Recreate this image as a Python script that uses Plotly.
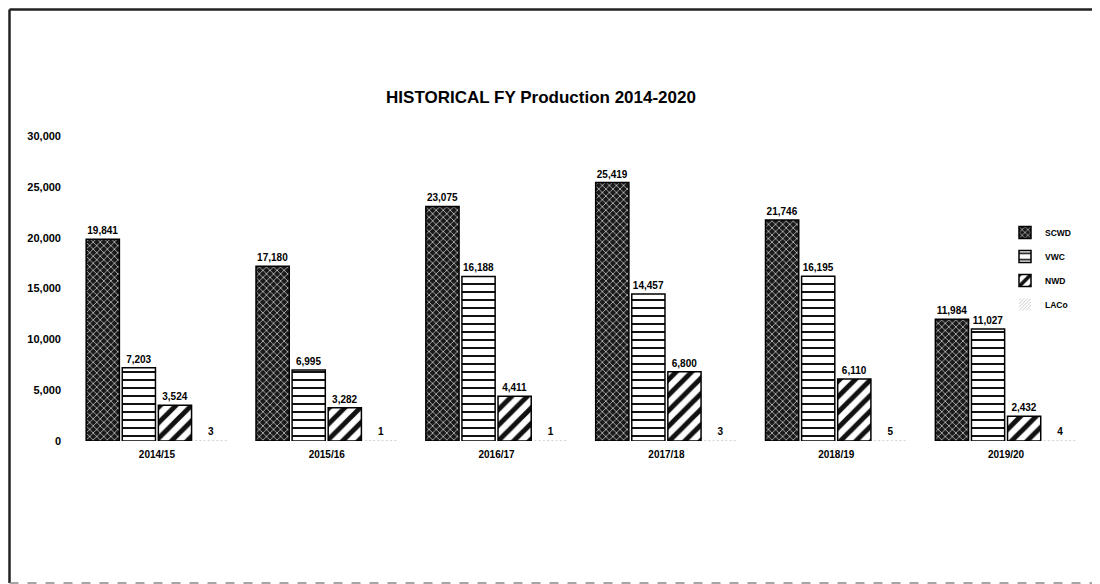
import plotly.graph_objects as go

years = ["2014/15", "2015/16", "2016/17", "2017/18", "2018/19", "2019/20"]
scwd = [19841, 17180, 23075, 25419, 21746, 11984]
vwc = [7203, 6995, 16188, 14457, 16195, 11027]
nwd = [3524, 3282, 4411, 6800, 6110, 2432]
laco = [3, 1, 1, 3, 5, 4]
tick_vals = [0, 5000, 10000, 15000, 20000, 25000, 30000]
tick_text = ["0", "5,000", "10,000", "15,000", "20,000", "25,000", "30,000"]
series_names = ["SCWD", "VWC", "NWD", "LACo"]

FONT = "Liberation Sans, Arial, sans-serif"

patterns = [
    dict(shape="x", fgcolor="white", bgcolor="#1a1a1a", size=5, solidity=0.22),
    dict(shape="-", fgcolor="#111111", bgcolor="white", size=8, solidity=0.25),
    dict(shape="/", fgcolor="#111111", bgcolor="white", size=11, solidity=0.45),
    dict(shape="/", fgcolor="#bbbbbb", bgcolor="white", size=3, solidity=0.3),
]
line_widths = [1.5, 1.5, 1.5, 0]

fig = go.Figure()
for name, vals, pat, lw in zip(series_names, [scwd, vwc, nwd, laco], patterns, line_widths):
    fig.add_trace(go.Bar(
        name=f"<b>{name}</b>", x=years, y=vals,
        text=[f"{v:,}" for v in vals], textposition="outside",
        texttemplate="<b>%{text}</b>",
        textfont=dict(family=FONT, size=10, color="black"),
        cliponaxis=False,
        legendgroup=name,
        marker=dict(color="white", pattern=dict(fillmode="replace", **pat),
                    line=dict(color="black", width=lw)),
    ))

# page body has an 8px margin: figure coords = screenshot coords - 8
OFF = 8
W, H = 1100 - OFF, 584 - OFF
ml, mr, mt, mb = 72 - OFF, 9, 136 - OFF, 584 - 441
pw = W - ml - mr
ph = H - mt - mb

def px(x):
    return (x - OFF - ml) / pw

def py(y):
    return (H - mb - (y - OFF)) / ph

fig.update_layout(
    width=W, height=H,
    margin=dict(l=ml, r=mr, t=mt, b=mb),
    paper_bgcolor="white", plot_bgcolor="white",
    barmode="group", bargap=0.15, bargroupgap=0.08,
    title=dict(text="<b>HISTORICAL FY Production 2014-2020</b>",
               x=(541 - OFF) / W, xanchor="center", y=1 - (97 - OFF) / H, yanchor="middle",
               font=dict(family=FONT, size=17, color="black")),
    font=dict(family=FONT, color="black"),
    showlegend=True,
    legend=dict(x=px(1005), xanchor="left", y=py(218), yanchor="top",
                font=dict(family=FONT, size=8.5, color="black"),
                tracegroupgap=5, itemwidth=30, bgcolor="rgba(0,0,0,0)"),
    xaxis=dict(showgrid=False, showline=False, zeroline=False, ticks="",
               tickfont=dict(family=FONT, size=10, color="black"),
               tickprefix="<b>", ticksuffix="</b>",
               ticklabelstandoff=6),
    yaxis=dict(range=[0, 30000], tickvals=tick_vals,
               ticktext=[f"<b>{t}</b>" for t in tick_text],
               showgrid=False, showline=False, zeroline=False, ticks="",
               tickfont=dict(family=FONT, size=11, color="black"),
               ticklabelstandoff=10),
)

# frame border
border = dict(color="#222222", width=2.5)
fig.add_shape(type="line", xref="paper", yref="paper", x0=px(9.5), x1=px(9.5), y0=py(9.5), y1=py(583), line=border)
fig.add_shape(type="line", xref="paper", yref="paper", x0=px(9.5), x1=px(1100), y0=py(9.5), y1=py(9.5), line=border)
fig.add_shape(type="line", xref="paper", yref="paper", x0=px(9.5), x1=px(1100), y0=py(583), y1=py(583),
              line=dict(color="#888888", width=1.5, dash="dash"))

fig.write_html("out.html")
